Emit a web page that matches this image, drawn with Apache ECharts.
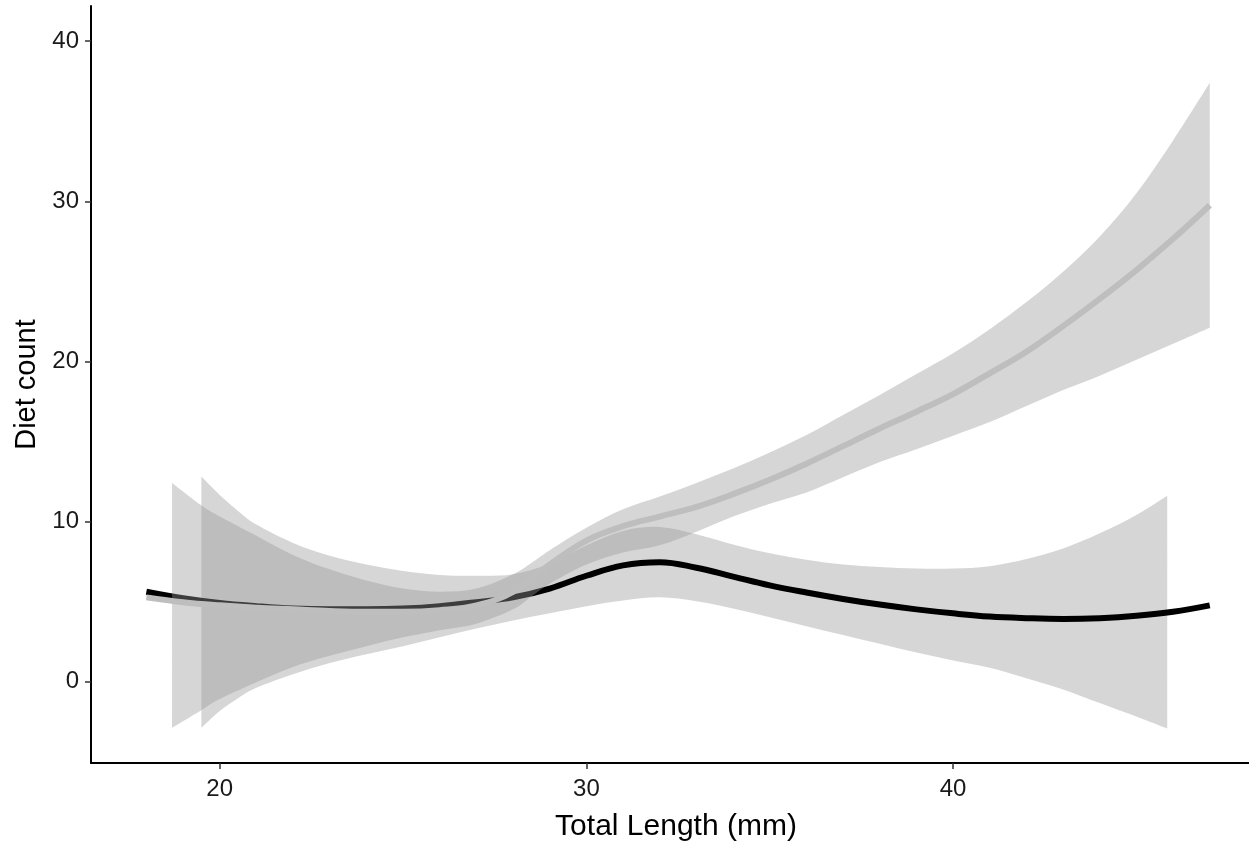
<!doctype html>
<html lang="en">
<head>
    <meta charset="UTF-8">
    <title>Diet count</title>
    <script src="https://cdn.jsdelivr.net/npm/echarts@6/dist/echarts.min.js"></script>
    <style>
        html, body { margin: 0; padding: 0; background: #fff; }
        #chart { width: 1249px; height: 847px; }
    </style>
</head>
<body>
<div id="chart"></div>
<script>
    // fitted lines
    var lineX = [18, 19, 20, 21, 22, 23, 24, 25, 26, 27, 28, 29, 30, 31, 32, 33, 34, 35, 36, 37, 38, 39, 40, 41, 42, 43, 44, 45, 46, 47];
    var blackY = [5.6, 5.2, 4.9, 4.7, 4.55, 4.5, 4.5, 4.55, 4.7, 4.95, 5.25, 5.8, 6.6, 7.25, 7.45, 7.1, 6.55, 6.0, 5.55, 5.15, 4.8, 4.5, 4.25, 4.05, 3.95, 3.9, 3.95, 4.1, 4.35, 4.75];
    var greyY = [5.25, 4.95, 4.75, 4.6, 4.5, 4.4, 4.35, 4.35, 4.45, 4.75, 5.6, 7.3, 8.8, 9.7, 10.3, 10.9, 11.7, 12.6, 13.6, 14.7, 15.8, 16.85, 17.95, 19.25, 20.6, 22.2, 23.9, 25.7, 27.65, 29.75];

    // confidence band of the black line
    var bandAX = [19.5, 20, 20.5, 21, 22, 23, 24, 25, 26, 27, 28, 29, 30, 31, 32, 33, 34, 35, 36, 37, 38, 39, 40, 41, 42, 43, 44, 45, 45.84];
    var bandALow = [-2.9, -1.85, -1.05, -0.4, 0.45, 1.15, 1.7, 2.2, 2.75, 3.3, 3.8, 4.25, 4.7, 5.05, 5.25, 5.0, 4.55, 4.0, 3.45, 2.9, 2.35, 1.8, 1.3, 0.85, 0.2, -0.5, -1.35, -2.2, -2.95];
    var bandAHigh = [12.8, 11.65, 10.65, 9.8, 8.65, 7.85, 7.3, 6.9, 6.65, 6.6, 6.7, 7.35, 8.5, 9.4, 9.65, 9.2, 8.55, 8.0, 7.6, 7.3, 7.15, 7.05, 7.05, 7.2, 7.65, 8.3, 9.25, 10.4, 11.6];

    // confidence band of the grey line
    var bandBX = [18.7, 19.5, 20, 21, 22, 23, 24, 25, 26, 27, 28, 28.5, 29, 30, 31, 32, 33, 34, 35, 36, 37, 38, 39, 40, 41, 42, 43, 44, 45, 46, 47];
    var bandBLow = [-2.9, -1.8, -1.1, -0.05, 0.9, 1.6, 2.2, 2.75, 3.2, 3.6, 4.5, 5.3, 6.1, 7.3, 8.05, 8.5, 9.35, 10.3, 11.1, 11.8, 12.75, 13.7, 14.5, 15.35, 16.2, 17.2, 18.2, 19.1, 20.1, 21.1, 22.1];
    var bandBHigh = [12.4, 11.0, 10.3, 9.1, 7.9, 7.0, 6.3, 5.8, 5.6, 5.8, 6.7, 7.4, 8.2, 9.6, 10.75, 11.55, 12.4, 13.3, 14.3, 15.4, 16.65, 17.9, 19.2, 20.5, 22.0, 23.7, 25.6, 27.8, 30.5, 33.8, 37.4];

    var xTicks = [20, 30, 40];
    var yTicks = [0, 10, 20, 30, 40];

    function pairs(xs, ys) {
        return xs.map(function (x, i) { return [x, ys[i]]; });
    }

    // curve through pixel points (catmull-rom as cubic bezier), for band edges
    function curve(p, moveFirst) {
        var d = (moveFirst ? 'M' : 'L') + p[0][0] + ',' + p[0][1];
        for (var i = 0; i < p.length - 1; i++) {
            var p0 = p[Math.max(i - 1, 0)], p1 = p[i], p2 = p[i + 1], p3 = p[Math.min(i + 2, p.length - 1)];
            var c1x = p1[0] + (p2[0] - p0[0]) / 6, c1y = p1[1] + (p2[1] - p0[1]) / 6;
            var c2x = p2[0] - (p3[0] - p1[0]) / 6, c2y = p2[1] - (p3[1] - p1[1]) / 6;
            d += 'C' + c1x + ',' + c1y + ' ' + c2x + ',' + c2y + ' ' + p2[0] + ',' + p2[1];
        }
        return d;
    }

    function band(xs, lo, hi, z) {
        return {
            type: 'custom',
            z: z,
            silent: true,
            clip: true,
            data: xs.map(function (x, i) { return [x, lo[i], hi[i]]; }),
            encode: { x: 0, y: [1, 2] },
            renderItem: function (params, api) {
                if (params.dataIndex !== 0) return null;
                var top = [], bottom = [];
                for (var i = 0; i < xs.length; i++) top.push(api.coord([xs[i], hi[i]]));
                for (var j = xs.length - 1; j >= 0; j--) bottom.push(api.coord([xs[j], lo[j]]));
                return {
                    type: 'path',
                    shape: { pathData: curve(top, true) + curve(bottom, false) + 'Z' },
                    style: { fill: 'rgba(153,153,153,0.4)', stroke: null }
                };
            }
        };
    }

    var chart = echarts.init(document.getElementById('chart'));
    var font = 'Liberation Sans, Arial, sans-serif';
    var option = {
        animation: false,
        grid: { left: 91, right: 0, top: 6, bottom: 84 },
        xAxis: {
            type: 'value',
            min: 16.49,
            max: 48.07,
            name: 'Total Length (mm)',
            nameLocation: 'middle',
            nameGap: 49,
            nameTextStyle: { fontFamily: font, fontSize: 30, color: '#000', padding: [0, 0, 0, 12] },
            axisLine: { onZero: false, lineStyle: { color: '#000', width: 2 } },
            axisTick: { show: true, length: 6, customValues: xTicks, lineStyle: { color: '#333', width: 1.5 } },
            axisLabel: { customValues: xTicks, margin: 14, fontFamily: font, fontSize: 24, color: '#1a1a1a' },
            splitLine: { show: false }
        },
        yAxis: {
            type: 'value',
            min: -5.1,
            max: 42.2,
            name: 'Diet count',
            nameLocation: 'middle',
            nameGap: 49,
            nameRotate: 90,
            nameTextStyle: { fontFamily: font, fontSize: 29, color: '#000' },
            axisLine: { show: true, lineStyle: { color: '#000', width: 2 } },
            axisTick: { show: true, length: 6, customValues: yTicks, lineStyle: { color: '#333', width: 1.5 } },
            axisLabel: { customValues: yTicks, margin: 12, fontFamily: font, fontSize: 24, color: '#1a1a1a' },
            splitLine: { show: false }
        },
        series: [
            band(bandAX, bandALow, bandAHigh, 1),
            {
                type: 'line',
                z: 2,
                data: pairs(lineX, blackY),
                smooth: 0.4,
                symbol: 'none',
                silent: true,
                lineStyle: { color: '#000', width: 6 }
            },
            band(bandBX, bandBLow, bandBHigh, 3),
            {
                type: 'line',
                z: 4,
                data: pairs(lineX, greyY),
                smooth: 0.4,
                symbol: 'none',
                silent: true,
                lineStyle: { color: '#bebebe', width: 6 }
            }
        ]
    };
    chart.setOption(option);
</script>
</body>
</html>
